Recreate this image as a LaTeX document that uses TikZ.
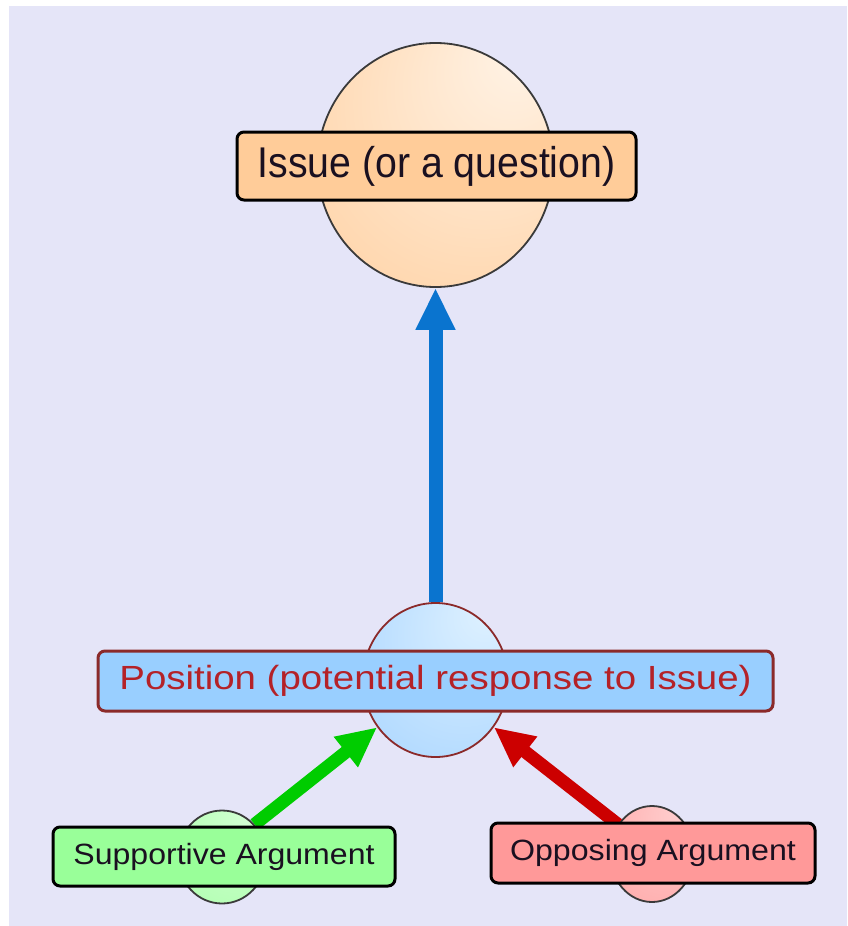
\documentclass[tikz,border=0pt]{standalone}
\usepackage{fontspec}
\setmainfont{Liberation Sans}
\usetikzlibrary{arrows.meta,shapes.geometric}
\definecolor{bg}{HTML}{E5E5F8}
\definecolor{issuelight}{HTML}{FFF4E8}
\definecolor{issuedark}{HTML}{FFC993}
\definecolor{issuebox}{HTML}{FFCC99}
\definecolor{poslight}{HTML}{E0F2FF}
\definecolor{posdark}{HTML}{9DCFFF}
\definecolor{posbox}{HTML}{99CFFF}
\definecolor{posline}{HTML}{8B2A2A}
\definecolor{postext}{HTML}{B42228}
\definecolor{suplight}{HTML}{D6FFD6}
\definecolor{supdark}{HTML}{A6FFA6}
\definecolor{supbox}{HTML}{99FF99}
\definecolor{opplight}{HTML}{FFD0D0}
\definecolor{oppdark}{HTML}{FFA0A0}
\definecolor{oppbox}{HTML}{FF9999}
\definecolor{circline}{HTML}{3A3A3A}
\definecolor{arrowblue}{HTML}{0A74CF}
\definecolor{arrowgreen}{HTML}{00CC00}
\definecolor{arrowred}{HTML}{CC0000}
\definecolor{darktext}{HTML}{1A1020}
\pgfdeclareradialshading{issueshade}{\pgfpoint{20bp}{25bp}}{color(0bp)=(issuelight); color(55bp)=(issuedark)}
\pgfdeclareradialshading{posshade}{\pgfpoint{20bp}{25bp}}{color(0bp)=(poslight); color(55bp)=(posdark)}
\pgfdeclareradialshading{supshade}{\pgfpoint{20bp}{25bp}}{color(0bp)=(suplight); color(55bp)=(supdark)}
\pgfdeclareradialshading{oppshade}{\pgfpoint{20bp}{25bp}}{color(0bp)=(opplight); color(55bp)=(oppdark)}
\tikzset{
  circ/.style={ellipse, inner sep=0pt, line width=1.8pt, draw=circline},
  lbox/.style={rectangle, rounded corners=7pt, inner sep=0pt, line width=3pt, draw=black},
  conn/.style={line cap=butt},
}
\begin{document}
\begin{tikzpicture}[x=1pt,y=-1pt]
\useasboundingbox (0,0) rectangle (847,926);
\fill[white] (0,0) rectangle (847,926);
\fill[bg] (9,6) rectangle (847,926);

% circles
\node[circ, minimum width=236pt, minimum height=244pt, shading=issueshade] (issuec) at (435.5,165) {};
\node[circ, draw=posline, minimum width=145pt, minimum height=154pt, shading=posshade] (posc) at (435.5,680) {};
\node[circ, minimum width=88pt, minimum height=93pt, shading=supshade] (supc) at (222,857) {};
\node[circ, minimum width=84pt, minimum height=96pt, shading=oppshade] (oppc) at (652,854) {};

% connectors
\draw[conn, line width=14pt, arrowblue, -{Triangle[length=42pt,width=37pt]}] (posc.north) -- (issuec.south);
\draw[conn, line width=13pt, arrowgreen, -{Triangle[length=40pt,width=36pt]}] (supc.45) -- (posc.219);
\draw[conn, line width=13pt, arrowred, -{Triangle[length=40pt,width=36pt]}] (oppc.139) -- (posc.321);

% label boxes
\node[lbox, fill=issuebox, minimum width=399pt, minimum height=68pt, text=darktext] (issueb) at (436.5,166)
  {\scalebox{0.913}[1]{\fontsize{43}{50}\selectfont Issue (or a question)}};
\node[lbox, draw=posline, fill=posbox, minimum width=675pt, minimum height=60pt, text=postext] (posb) at (435.5,681)
  {\scalebox{1.147}[1]{\fontsize{33.5}{40}\selectfont Position (potential response to Issue)}};
\node[lbox, fill=supbox, minimum width=342pt, minimum height=59pt, text=darktext] (supb) at (224,856.5)
  {\scalebox{1.094}[1]{\fontsize{29.3}{35}\selectfont Supportive Argument}};
\node[lbox, fill=oppbox, minimum width=324pt, minimum height=60pt, text=darktext] (oppb) at (653,853)
  {\scalebox{1.097}[1]{\fontsize{29.3}{35}\selectfont Opposing Argument}};
\end{tikzpicture}
\end{document}
